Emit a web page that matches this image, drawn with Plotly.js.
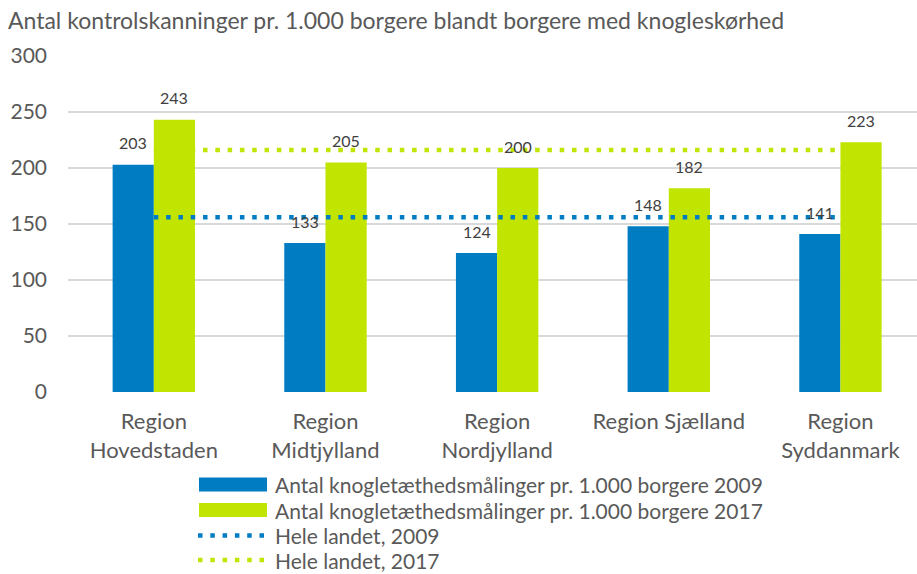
<!DOCTYPE html>
<html><head><meta charset="utf-8">
<script src="https://cdn.plot.ly/plotly-3.0.1.min.js"></script>
<style>html,body{margin:0;padding:0;background:#fff}</style>
</head><body><div id="chart" style="width:917px;height:574px"></div>
<script>
const categories = ["Region<br>Hovedstaden", "Region<br>Midtjylland", "Region<br>Nordjylland", "Region Sjælland", "Region<br>Syddanmark"];
const values2009 = [203, 133, 124, 148, 141];
const values2017 = [243, 205, 200, 182, 223];
const national2009 = [156, 156, 156, 156, 156];
const national2017 = [216, 216, 216, 216, 216];
const seriesNames = [
  "Antal knogletæthedsmålinger pr. 1.000 borgere 2009",
  "Antal knogletæthedsmålinger pr. 1.000 borgere 2017",
  "Hele landet, 2009",
  "Hele landet, 2017"
];
const yTicks = [0, 50, 100, 150, 200, 250, 300];
const chartTitle = "Antal kontrolskanninger pr. 1.000 borgere blandt borgere med knogleskørhed";

const BLUE = "#007CC3";
const GREEN = "#C1E500";
const TEXT = "#595959";
const FONT = "Lato, 'Liberation Sans', sans-serif";
const DOTS = "4.5px,7.8px";

const traces = [
  {type: "bar", name: seriesNames[0], x: categories, y: values2009, marker: {color: BLUE}, showlegend: false, hoverinfo: "y"},
  {type: "bar", name: seriesNames[1], x: categories, y: values2017, marker: {color: GREEN}, showlegend: false, hoverinfo: "y"},
  {type: "scatter", mode: "lines", name: seriesNames[2], x: categories, y: national2009, line: {color: BLUE, width: 4.5, dash: DOTS}, showlegend: false},
  {type: "scatter", mode: "lines", name: seriesNames[3], x: categories, y: national2017, line: {color: GREEN, width: 4.5, dash: DOTS}, showlegend: false}
];

// data labels
const annotations = [];
const half = 0.12;
values2009.forEach((v, i) => annotations.push({x: i - half, y: v, xref: "x", yref: "y", text: String(v), showarrow: false, yshift: 22, font: {family: FONT, size: 16, color: "#404040"}}));
values2017.forEach((v, i) => annotations.push({x: i + half, y: v, xref: "x", yref: "y", text: String(v), showarrow: false, yshift: 22, font: {family: FONT, size: 16, color: "#404040"}}));

// custom legend
const plotL = 68, plotW = 849, plotB = 392, plotH = 336;
const px = v => (v - plotL) / plotW;
const py = v => (plotB - v) / plotH;
const rowsY = [484.5, 510, 535.5, 560];
const shapes = [];
const legendColors = [BLUE, GREEN, BLUE, GREEN];
seriesNames.forEach((name, k) => {
  const yc = rowsY[k];
  if (k < 2) {
    shapes.push({type: "rect", xref: "paper", yref: "paper", x0: px(199), x1: px(267), y0: py(yc + 7), y1: py(yc - 7), fillcolor: legendColors[k], line: {width: 0}});
  } else {
    shapes.push({type: "line", xref: "paper", yref: "paper", x0: px(198), x1: px(266), y0: py(yc), y1: py(yc), line: {color: legendColors[k], width: 4.5, dash: DOTS}});
  }
  annotations.push({xref: "paper", yref: "paper", x: px(273), y: py(yc), xanchor: "left", yanchor: "middle", text: name, showarrow: false, font: {family: FONT, size: 21, color: TEXT}});
});

const layout = {
  width: 917, height: 574,
  margin: {l: 68, r: 0, t: 56, b: 182},
  paper_bgcolor: "#fff", plot_bgcolor: "#fff",
  font: {family: FONT, color: TEXT},
  title: {text: chartTitle, x: 8 / 917, xref: "container", xanchor: "left", y: 1 - 21 / 574, yref: "container", yanchor: "middle", font: {family: FONT, size: 23, color: TEXT}},
  barmode: "group", bargap: 0.52, bargroupgap: 0,
  showlegend: false,
  xaxis: {type: "category", range: [-0.5, 4.446], showgrid: false, zeroline: false, showline: false, ticks: "", tickfont: {family: FONT, size: 22, color: TEXT}, ticklabelstandoff: 14, fixedrange: true},
  yaxis: {range: [0, 300], tickvals: yTicks, showgrid: true, gridcolor: "#D9D9D9", gridwidth: 1.3, zeroline: false, showline: false, ticks: "", tickfont: {family: FONT, size: 21, color: TEXT}, ticklabelstandoff: 20, fixedrange: true},
  annotations: annotations,
  shapes: shapes
};

Plotly.newPlot("chart", traces, layout, {displayModeBar: false, staticPlot: true});
</script></body></html>
